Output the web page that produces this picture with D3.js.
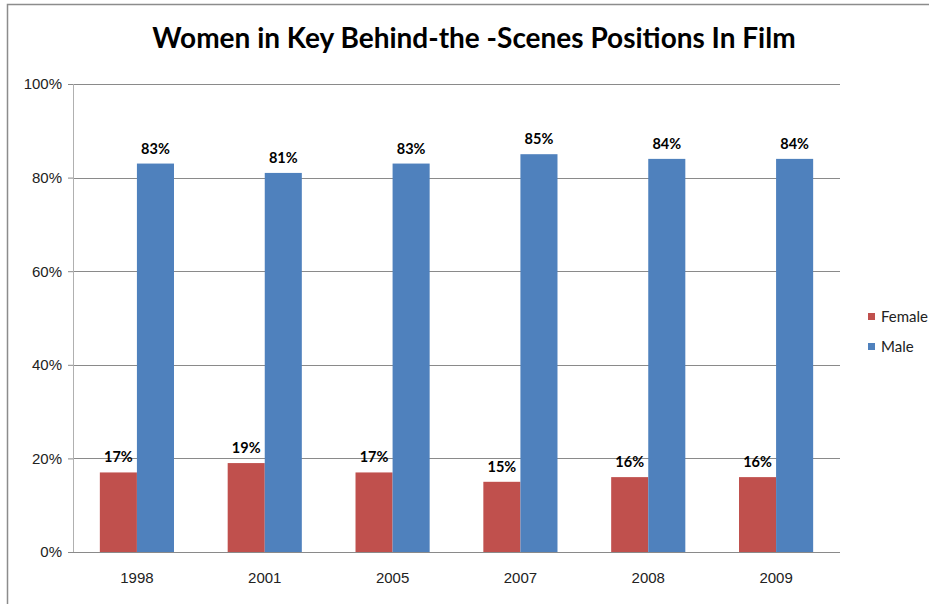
<!DOCTYPE html>
<html>
<head>
<meta charset="utf-8">
<script src="https://cdn.jsdelivr.net/npm/d3@7"></script>
<style>
  body { margin: 0; background: #fff; }
  svg { display: block; font-family: Lato, "Liberation Sans", sans-serif; }
</style>
</head>
<body>
<svg id="chart" width="929" height="604"></svg>
<script>
const years = ['1998', '2001', '2005', '2007', '2008', '2009']
const female = [17, 19, 17, 15, 16, 16]
const male = [83, 81, 83, 85, 84, 84]
const seriesNames = ['Female', 'Male']
const yTicks = [0, 20, 40, 60, 80, 100]

const colors = { Female: '#C0504D', Male: '#4F81BD' }
const margin = { top: 84, right: 89, bottom: 52, left: 73 }
const W = 929, H = 604
const width = W - margin.left - margin.right
const height = H - margin.top - margin.bottom

const rows = years.map((y, i) => ({ year: y, Female: female[i], Male: male[i] }))

const svg = d3.select('#chart')

// outer chart border
svg.append('path')
    .attr('d', `M7.5,${H} V4.5 H${W}`)
    .attr('fill', 'none')
    .attr('stroke', '#8c8c8c')
    .attr('stroke-width', 1.5)

svg.append('text')
    .attr('x', 474).attr('y', 48)
    .attr('text-anchor', 'middle')
    .attr('font-size', 28).attr('font-weight', 700)
    .attr('fill', '#000')
    .text('Women in Key Behind-the -Scenes Positions In Film')

const plot = svg.append('g').attr('transform', `translate(${margin.left},${margin.top})`)

const x0 = d3.scaleBand().domain(years).range([0, width]).paddingInner(0.42).paddingOuter(0.21)
const x1 = d3.scaleBand().domain(seriesNames).range([0, x0.bandwidth()])
const y = d3.scaleLinear().domain([0, 100]).range([height, 0])

// gridlines
plot.append('g').selectAll('line').data(yTicks.filter(t => t > 0))
    .join('line')
    .attr('x1', 0).attr('x2', width)
    .attr('y1', d => Math.round(y(d)) + 0.5).attr('y2', d => Math.round(y(d)) + 0.5)
    .attr('stroke', '#8a8a8a')

// y axis
const axisY = d3.axisLeft(y).tickValues(yTicks).tickFormat(d => d + '%').tickSize(5).tickPadding(6)
const gy = plot.append('g').call(axisY)
gy.select('.domain').attr('stroke', '#b0b0b0').attr('d', `M0.5,0V${height}`)
gy.selectAll('.tick line').attr('stroke', '#8a8a8a')
gy.selectAll('text').attr('font-size', 15).attr('fill', '#222')

// bars
const groups = plot.append('g').selectAll('g').data(rows)
    .join('g')
    .attr('transform', d => `translate(${x0(d.year)},0)`)

groups.selectAll('rect').data(d => seriesNames.map(k => ({ key: k, value: d[k] })))
    .join('rect')
    .attr('x', d => x1(d.key))
    .attr('width', x1.bandwidth())
    .attr('y', d => y(d.value))
    .attr('height', d => height - y(d.value))
    .attr('fill', d => colors[d.key])

groups.selectAll('text.lbl').data(d => seriesNames.map(k => ({ key: k, value: d[k] })))
    .join('text')
    .attr('class', 'lbl')
    .attr('x', d => x1(d.key) + x1.bandwidth() / 2)
    .attr('y', d => y(d.value) - 10)
    .attr('text-anchor', 'middle')
    .attr('font-size', 14.5).attr('font-weight', 700)
    .attr('fill', '#000')
    .text(d => d.value + '%')

// x axis
const axisX = d3.axisBottom(x0).tickSize(0).tickPadding(20)
const gx = plot.append('g').attr('transform', `translate(0,${height})`).call(axisX)
gx.select('.domain').attr('stroke', '#8a8a8a').attr('d', `M0,0.5H${width}`)
gx.selectAll('text').attr('font-size', 15).attr('fill', '#222')

// legend
const legend = svg.append('g').attr('transform', 'translate(868,313)')
const li = legend.selectAll('g').data(seriesNames)
    .join('g')
    .attr('transform', (d, i) => `translate(0,${i * 30})`)
li.append('rect').attr('width', 7).attr('height', 7).attr('fill', d => colors[d])
li.append('text').attr('x', 13).attr('y', 9)
    .attr('font-size', 15).attr('fill', '#222')
    .text(d => d)
</script>
</body>
</html>
